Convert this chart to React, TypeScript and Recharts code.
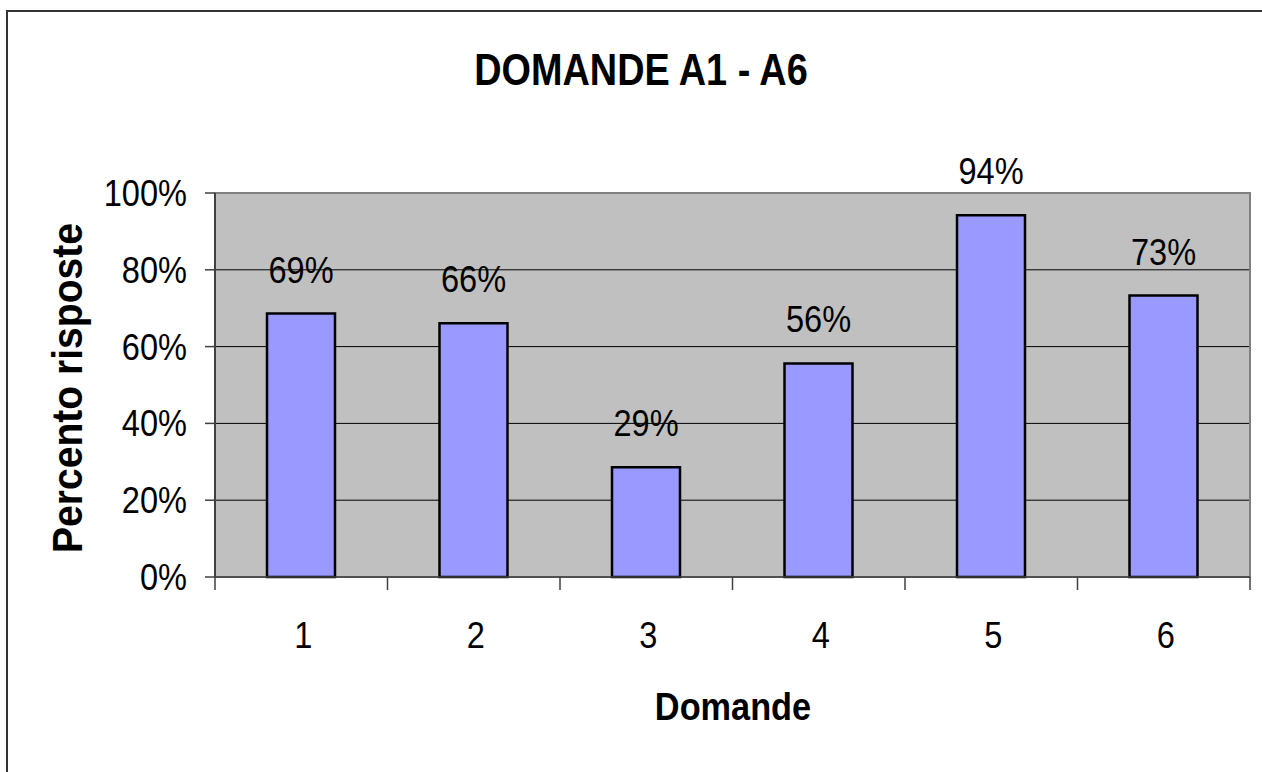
import {
  Bar,
  BarChart,
  CartesianGrid,
  LabelList,
  ReferenceArea,
  XAxis,
  YAxis,
} from 'recharts'

const domande = ['1', '2', '3', '4', '5', '6']
const percentuali = [68.6, 66.1, 28.6, 55.6, 94.2, 73.3]
const yTicks = [0, 20, 40, 60, 80, 100]

const data = domande.map((name, i) => ({ name, value: percentuali[i] }))

const W = 1262
const H = 772
const X_AXIS_H = 30
const MARGIN = { top: 193, right: 12, bottom: 195 - X_AXIS_H, left: 0 }
const Y_AXIS_W = 215
const HALF_BAND = (W - MARGIN.right - Y_AXIS_W) / domande.length / 2

const FONT = '"Liberation Sans", Arial, Helvetica, sans-serif'
const SQUEEZE = 0.88

const XTick = (props: any) => {
  const { x, y, payload, index } = props
  const last = index === domande.length - 1
  return (
    <g>
      <line x1={x - HALF_BAND} y1={y} x2={x - HALF_BAND} y2={y + 13} stroke="#404040" strokeWidth={1.5} />
      {last && (
        <line x1={x + HALF_BAND} y1={y} x2={x + HALF_BAND} y2={y + 13} stroke="#404040" strokeWidth={1.5} />
      )}
      <text
        transform={`translate(${x + 2} ${y + 71}) scale(${SQUEEZE} 1)`}
        textAnchor="middle"
        fontSize={37}
        fontFamily={FONT}
        fill="#000"
      >
        {payload.value}
      </text>
    </g>
  )
}

const YTick = (props: any) => {
  const { x, y, payload } = props
  return (
    <text
      transform={`translate(${x} ${y + 13}) scale(${SQUEEZE} 1)`}
      textAnchor="end"
      fontSize={37}
      fontFamily={FONT}
      fill="#000"
    >
      {`${payload.value}%`}
    </text>
  )
}

const BarLabel = (props: any) => {
  const { x, y, width, value } = props
  return (
    <text
      transform={`translate(${x + width / 2} ${y - 31}) scale(${SQUEEZE} 1)`}
      textAnchor="middle"
      fontSize={37}
      fontFamily={FONT}
      fill="#000"
    >
      {`${Math.round(Number(value))}%`}
    </text>
  )
}

export default function App() {
  return (
    <div style={{ position: 'fixed', left: 0, top: 0, right: 0, bottom: 0, overflow: 'hidden', background: '#fff' }}>
      <BarChart width={W} height={H} data={data} margin={MARGIN} style={{ fontFamily: FONT }}>
        <line x1={7} y1={11} x2={7} y2={H} stroke="#333" strokeWidth={2} />
        <line x1={6} y1={11} x2={W} y2={11} stroke="#333" strokeWidth={2} />
        <CartesianGrid
          vertical={false}
          fill="#C0C0C0"
          stroke="#000"
          strokeWidth={1}
          fillOpacity={1}
        />
        <ReferenceArea y1={0} y2={100} fill="none" stroke="#808080" strokeWidth={2} ifOverflow="visible" />
        <XAxis
          dataKey="name"
          height={X_AXIS_H}
          tickLine={false}
          tickSize={0}
          tickMargin={0}
          axisLine={{ stroke: '#404040', strokeWidth: 1.5 }}
          tick={<XTick />}
          interval={0}
        />
        <YAxis
          width={Y_AXIS_W}
          domain={[0, 100]}
          ticks={yTicks}
          interval={0}
          tickSize={10}
          tickMargin={18}
          axisLine={{ stroke: '#404040', strokeWidth: 2 }}
          tickLine={{ stroke: '#404040', strokeWidth: 1.5 }}
          tick={<YTick />}
        />
        <Bar
          dataKey="value"
          barSize={68}
          fill="#9999FF"
          stroke="#000"
          strokeWidth={2.5}
          isAnimationActive={false}
        >
          <LabelList dataKey="value" content={<BarLabel />} />
        </Bar>
        <text
          transform="translate(641 85) scale(0.86 1)"
          textAnchor="middle"
          fontSize={44}
          fontWeight="bold"
          fontFamily={FONT}
          fill="#000"
        >
          DOMANDE A1 - A6
        </text>
        <text
          transform="translate(733 720) scale(0.88 1)"
          textAnchor="middle"
          fontSize={39}
          fontWeight="bold"
          fontFamily={FONT}
          fill="#000"
        >
          Domande
        </text>
        <text
          transform="translate(82 388) rotate(-90) scale(0.93 1)"
          textAnchor="middle"
          fontSize={42}
          fontWeight="bold"
          fontFamily={FONT}
          fill="#000"
        >
          Percento risposte
        </text>
      </BarChart>
    </div>
  )
}
